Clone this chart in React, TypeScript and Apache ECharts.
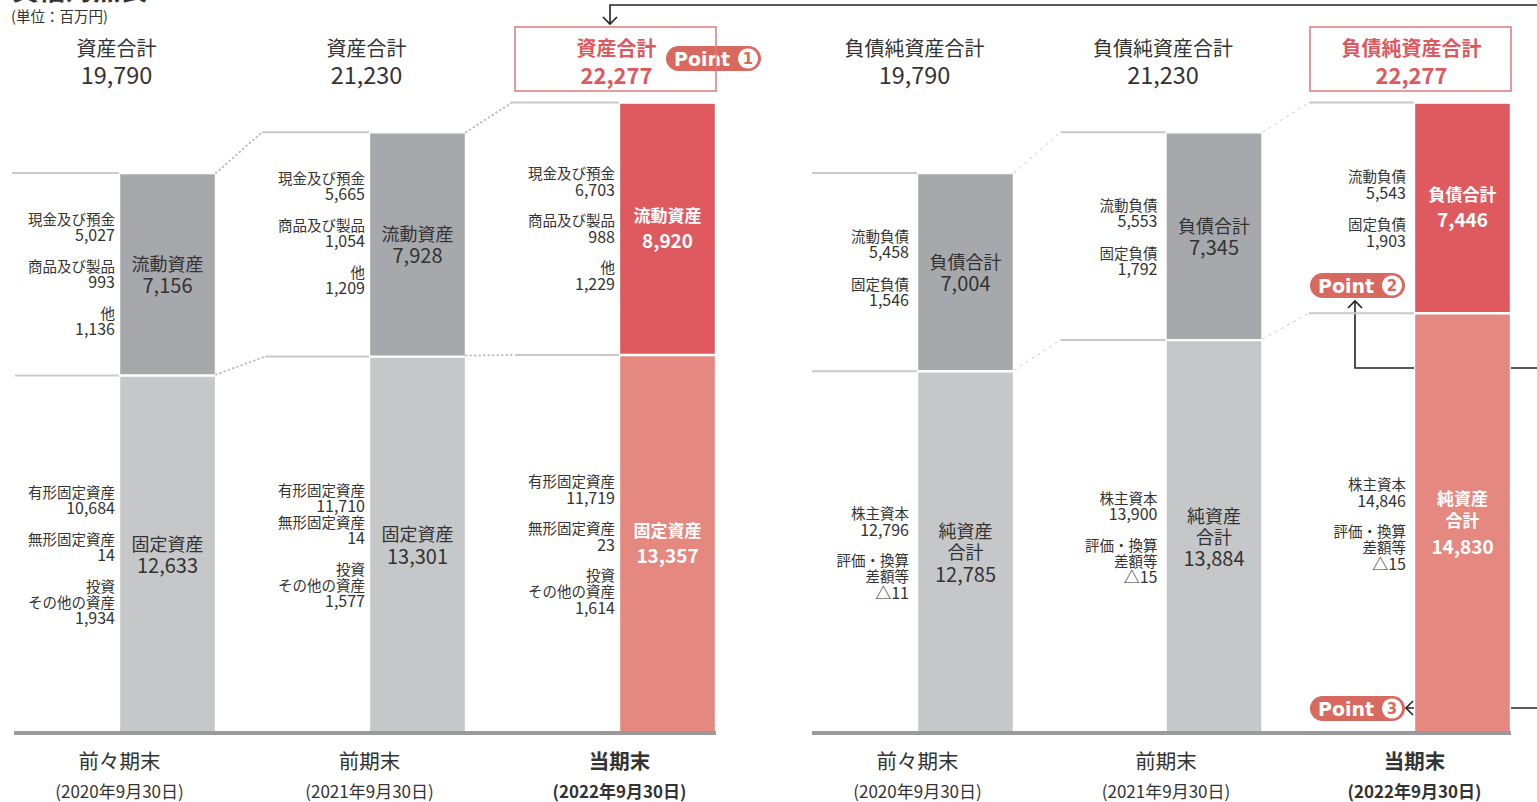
import React, { useEffect, useRef } from "react";
import * as echarts from "echarts";

// ---------- data ----------
const periods = ["前々期末", "前期末", "当期末"];
const periodDates = ["(2020年9月30日)", "(2021年9月30日)", "(2022年9月30日)"];

const assetTotal = [19790, 21230, 22277];
const currentAssets = [7156, 7928, 8920];
const fixedAssets = [12633, 13301, 13357];
const cashAndDeposits = [5027, 5665, 6703];
const merchandise = [993, 1054, 988];
const otherCurrent = [1136, 1209, 1229];
const tangibleFixed = [10684, 11710, 11719];
const intangibleFixed = [14, 14, 23];
const investmentsOther = [1934, 1577, 1614];

const liabNetTotal = [19790, 21230, 22277];
const totalLiabilities = [7004, 7345, 7446];
const totalNetAssets = [12785, 13884, 14830];
const currentLiabilities = [5458, 5553, 5543];
const fixedLiabilities = [1546, 1792, 1903];
const shareholdersEquity = [12796, 13900, 14846];
const valuationDiff = [-11, -15, -15];

// ---------- style ----------
const FONT = "'Noto Sans CJK JP', 'Noto Sans', sans-serif";
const TXT = "#333333";
const GRAY_TOP = "#a7a8ab";
const GRAY_BOT = "#c6c7c9";
const RED_TOP = "#de5a5f";
const RED_BOT = "#e5887f";
const RED_TEXT = "#dc5a5f";
const BADGE = "#d8695e";
const HALF = 48.5;

const fmt = (v: number) =>
  v < 0 ? "△" + Math.abs(v).toLocaleString("en-US") : v.toLocaleString("en-US");

const isNum = (s: string) => /^[△\d,]+$/.test(s);

const txt = (text: string, x: number, y: number, o: any = {}) => ({
  type: "text",
  style: {
    text,
    x,
    y,
    fill: o.fill || TXT,
    fontSize: o.size || 15,
    fontWeight: o.weight || "normal",
    fontFamily: o.family || FONT,
    align: o.align || "right",
    verticalAlign: "middle",
  },
});

const seg = (x1: number, y1: number, x2: number, y2: number, style: any) => ({
  type: "line",
  shape: { x1, y1, x2, y2 },
  style,
});

function barData(values: number[], top: boolean, labels: (i: number) => string[]) {
  return values.map((v, i) => {
    const red = i === 2;
    const lines = labels(i);
    const formatter = lines
      .map((l, k) => (k === lines.length - 1 ? `{v|${l}}` : `{t|${l}}`))
      .join("\n");
    return {
      value: v,
      itemStyle: { color: red ? (top ? RED_TOP : RED_BOT) : top ? GRAY_TOP : GRAY_BOT },
      label: {
        show: true,
        position: "inside",
        formatter,
        rich: red
          ? {
              t: { fontSize: 17, fontWeight: "bold", color: "#fff", lineHeight: 22, fontFamily: FONT },
              v: { fontSize: 19, fontWeight: "bold", color: "#fff", lineHeight: 29, fontFamily: FONT },
            }
          : {
              t: { fontSize: 18, color: TXT, lineHeight: 21, fontFamily: FONT },
              v: { fontSize: 20, color: TXT, lineHeight: 23, fontFamily: FONT },
            },
      },
    };
  });
}

function annotSeries(g: number, cfg: any) {
  return {
    type: "custom",
    xAxisIndex: g,
    yAxisIndex: g,
    clip: false,
    silent: true,
    z: 5,
    data: periods.map((_, i) => [i, cfg.totals[i]]),
    encode: { x: 0, y: 1 },
    renderItem: (params: any, api: any) => {
      const i = params.dataIndex;
      const base = api.coord([i, 0]);
      const xc = base[0];
      const y0 = base[1];
      const bl = xc - HALF;
      const br = xc + HALF;
      const yTop = api.coord([i, cfg.totals[i]])[1];
      const yMid = api.coord([i, cfg.lower[i]])[1];
      const ls = bl - cfg.lineInset;
      const children: any[] = [];
      const guide = { stroke: "#c9c9c9", lineWidth: 2 };
      children.push(seg(ls, yTop, bl, yTop, guide));
      children.push(seg(ls + cfg.midInset, yMid, bl, yMid, guide));
      if (i > 0) {
        const pbr = api.coord([i - 1, 0])[0] + HALF;
        const pTop = api.coord([i - 1, cfg.totals[i - 1]])[1];
        const pMid = api.coord([i - 1, cfg.lower[i - 1]])[1];
        children.push(seg(pbr, pTop, ls, yTop, cfg.connector));
        children.push(seg(pbr, pMid - 1, ls + cfg.midInset, yMid, cfg.connector));
      }
      // breakdown blocks
      const LH = 16;
      const drawBlock = (items: string[][], gaps: number[], yc: number) => {
        const total =
          items.reduce((s, it) => s + it.length * LH, 0) + gaps.reduce((s, x) => s + x, 0);
        let y = yc - total / 2 + LH / 2;
        items.forEach((it, k) => {
          if (k > 0) y += gaps[k - 1];
          it.forEach((line) => {
            children.push(txt(line, bl - cfg.labelGap, y, { size: isNum(line) ? 16 : 14.5 }));
            y += LH;
          });
        });
      };
      drawBlock(cfg.upperItems(i), cfg.upperGaps[i], (yTop + yMid) / 2 + cfg.upperShift[i]);
      drawBlock(cfg.lowerItems(i), cfg.lowerGaps[i], (yMid + y0) / 2);

      // header
      const hx = xc - 51;
      const red = i === 2;
      if (red) {
        children.push({
          type: "rect",
          shape: { x: bl - 104, y: 27, width: br - bl + 104, height: 64 },
          style: { fill: "none", stroke: "#e07a7c", lineWidth: 1.5 },
        });
      }
      children.push(
        txt(cfg.header, hx, 47, {
          align: "center",
          size: 20,
          fill: red ? RED_TEXT : TXT,
          weight: red ? "bold" : "normal",
        })
      );
      children.push(
        txt(fmt(cfg.totals[i]), hx, 74, {
          align: "center",
          size: red ? 22 : 23.5,
          fill: red ? RED_TEXT : TXT,
          weight: red ? "bold" : "normal",
        })
      );
      // period labels
      const px = xc - 48;
      children.push(txt(periods[i], px, 760, { align: "center", size: 20.5, weight: red ? "bold" : "normal" }));
      children.push(txt(periodDates[i], px, 790, { align: "center", size: 17, weight: red ? "bold" : "normal" }));
      // baseline
      if (i === periods.length - 1) {
        const x0 = api.coord([0, 0])[0] - HALF - 105;
        children.push(seg(x0, y0, br, y0, { stroke: "#9a9a9c", lineWidth: 4 }));
      }
      return { type: "group", children };
    },
  };
}

const leftCfg = {
  totals: assetTotal,
  lower: fixedAssets,
  header: "資産合計",
  upperItems: (i: number) => [
    ["現金及び預金", fmt(cashAndDeposits[i])],
    ["商品及び製品", fmt(merchandise[i])],
    ["他", fmt(otherCurrent[i])],
  ],
  lowerItems: (i: number) => [
    ["有形固定資産", fmt(tangibleFixed[i])],
    ["無形固定資産", fmt(intangibleFixed[i])],
    ["投資", "その他の資産", fmt(investmentsOther[i])],
  ],
  upperGaps: [[15, 15], [15, 15], [15, 15]],
  lowerGaps: [[15, 15], [0, 15], [15, 15]],
  upperShift: [-1, -12, -1],
  labelGap: 4,
  lineInset: 107,
  midInset: 3,
  connector: { stroke: "#bdbdbd", lineWidth: 2, lineDash: [0.5, 4], lineCap: "round" },
};

const rightCfg = {
  totals: liabNetTotal,
  lower: totalNetAssets,
  header: "負債純資産合計",
  upperItems: (i: number) => [
    ["流動負債", fmt(currentLiabilities[i])],
    ["固定負債", fmt(fixedLiabilities[i])],
  ],
  lowerItems: (i: number) => [
    ["株主資本", fmt(shareholdersEquity[i])],
    ["評価・換算", "差額等", fmt(valuationDiff[i])],
  ],
  upperGaps: [[16], [16], [16]],
  lowerGaps: [[15], [15], [15]],
  upperShift: [-5, 0, 0],
  labelGap: 8,
  lineInset: 105,
  midInset: 0,
  connector: { stroke: "#cccccc", lineWidth: 1, lineDash: [3, 4] },
};

function badge(x: number, y: number, n: string) {
  return {
    type: "group",
    children: [
      { type: "rect", shape: { x, y, width: 95, height: 25, r: 12.5 }, style: { fill: BADGE } },
      {
        type: "text",
        style: {
          text: "Point",
          x: x + 8,
          y: y + 13,
          fill: "#fff",
          fontSize: 19,
          fontWeight: "bold",
          fontFamily: "'DejaVu Sans', sans-serif",
          align: "left",
          verticalAlign: "middle",
        },
      },
      { type: "circle", shape: { cx: x + 82, cy: y + 12.5, r: 10 }, style: { fill: "#fff" } },
      {
        type: "text",
        style: {
          text: n,
          x: x + 82,
          y: y + 13,
          fill: BADGE,
          fontSize: 15,
          fontWeight: "bold",
          fontFamily: "'DejaVu Sans', sans-serif",
          align: "center",
          verticalAlign: "middle",
        },
      },
    ],
  };
}

const arrowStyle = { stroke: "#222", lineWidth: 1.6, fill: "none" };

const barCommon = {
  type: "bar",
  barWidth: 97,
  clip: false,
  itemStyle: { borderColor: "#fff", borderWidth: 1.2 },
};

const option: any = {
  animation: false,
  backgroundColor: "#fff",
  grid: [
    { left: 167.5, top: 25.5, width: 500, height: 707.5 },
    { left: 965.5, top: 25.5, width: 497, height: 707.5 },
  ],
  xAxis: [0, 1].map((g) => ({
    type: "category",
    gridIndex: g,
    data: periods,
    boundaryGap: false,
    show: false,
  })),
  yAxis: [0, 1].map((g) => ({ type: "value", gridIndex: g, min: 0, max: 25000, show: false })),
  series: [
    {
      ...barCommon,
      name: "固定資産",
      stack: "L",
      xAxisIndex: 0,
      yAxisIndex: 0,
      data: barData(fixedAssets, false, (i) => ["固定資産", fmt(fixedAssets[i])]),
    },
    {
      ...barCommon,
      name: "流動資産",
      stack: "L",
      xAxisIndex: 0,
      yAxisIndex: 0,
      data: barData(currentAssets, true, (i) => ["流動資産", fmt(currentAssets[i])]),
    },
    {
      ...barCommon,
      name: "純資産合計",
      stack: "R",
      xAxisIndex: 1,
      yAxisIndex: 1,
      data: barData(totalNetAssets, false, (i) => ["純資産", "合計", fmt(totalNetAssets[i])]),
    },
    {
      ...barCommon,
      name: "負債合計",
      stack: "R",
      xAxisIndex: 1,
      yAxisIndex: 1,
      data: barData(totalLiabilities, true, (i) => ["負債合計", fmt(totalLiabilities[i])]),
    },
    annotSeries(0, leftCfg),
    annotSeries(1, rightCfg),
  ],
  graphic: [
    {
      type: "text",
      left: 12,
      top: -25,
      style: {
        text: "{a|貸借対照表}{b|（概要）}",
        rich: {
          a: { fontSize: 27, fontWeight: "bold", fill: TXT, fontFamily: FONT },
          b: { fontSize: 16, fill: TXT, fontFamily: FONT },
        },
      },
    },
    {
      type: "text",
      left: 11,
      top: 8,
      style: { text: "(単位：百万円)", fontSize: 14.5, fill: TXT, fontFamily: FONT },
    },
    badge(666, 46, "1"),
    badge(1310, 273, "2"),
    badge(1310, 696, "3"),
    { type: "polyline", shape: { points: [[1537, 5], [610, 5], [610, 24]] }, style: arrowStyle },
    { type: "polyline", shape: { points: [[603, 17], [610, 24], [617, 17]] }, style: arrowStyle },
    { type: "polyline", shape: { points: [[1537, 368], [1355, 368], [1355, 301]] }, style: arrowStyle },
    { type: "polyline", shape: { points: [[1348, 308], [1355, 301], [1362, 308]] }, style: arrowStyle },
    { type: "polyline", shape: { points: [[1537, 708], [1406, 708]] }, style: arrowStyle },
    { type: "polyline", shape: { points: [[1413, 701], [1406, 708], [1413, 715]] }, style: arrowStyle },
  ],
};

export default function App() {
  const ref = useRef<HTMLDivElement>(null);
  useEffect(() => {
    const chart = echarts.init(ref.current!, null, { renderer: "svg" });
    chart.setOption(option);
    return () => chart.dispose();
  }, []);
  return (
    <div
      ref={ref}
      style={{ position: "fixed", left: 0, top: 0, width: 1537, height: 802, background: "#fff" }}
    />
  );
}
